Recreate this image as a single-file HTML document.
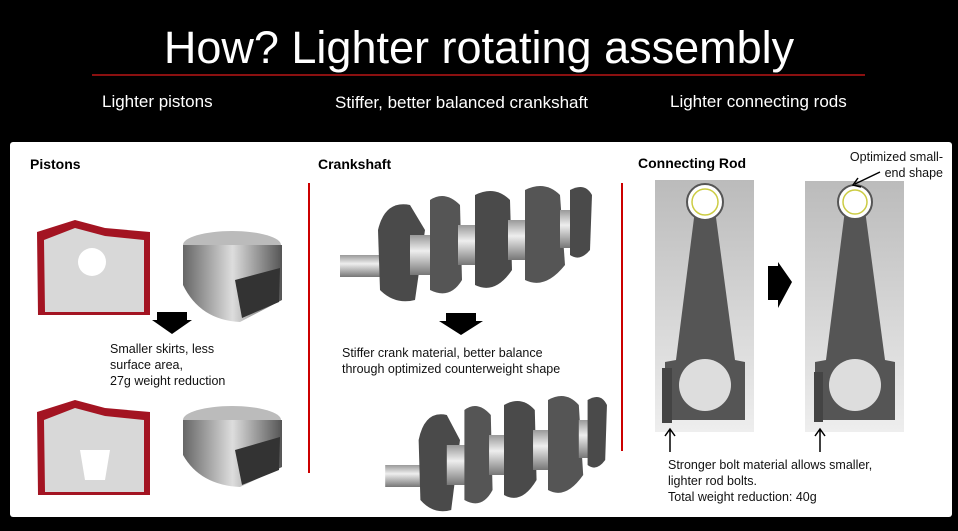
<!DOCTYPE html>
<html><head><meta charset="utf-8"><style>
body{margin:0;width:958px;height:531px;background:#000;position:relative;overflow:hidden;font-family:"Liberation Sans",sans-serif}
.a{position:absolute}
.t{color:#fff}
.k{color:#111;font-size:12.5px;line-height:16px}
.h{color:#000;font-weight:bold;font-size:14px}
</style></head><body>
<div class="a t" style="left:0;width:958px;top:21px;text-align:center;font-size:45px;line-height:54px">How? Lighter rotating assembly</div>
<div class="a" style="left:92px;top:74px;width:773px;height:2px;background:#8b1010"></div>
<div class="a t" style="left:102px;top:92px;font-size:17px">Lighter pistons</div>
<div class="a t" style="left:335px;top:93px;font-size:17px">Stiffer, better balanced crankshaft</div>
<div class="a t" style="left:670px;top:92px;font-size:17px">Lighter connecting rods</div>
<div class="a" style="left:10px;top:142px;width:942px;height:375px;background:#fff;border-radius:3px"></div>
<div class="a h" style="left:30px;top:156px">Pistons</div>
<div class="a h" style="left:318px;top:156px">Crankshaft</div>
<div class="a h" style="left:638px;top:155px">Connecting Rod</div>
<div class="a" style="left:308px;top:183px;width:1.5px;height:290px;background:#c00"></div>
<div class="a" style="left:621px;top:183px;width:1.5px;height:268px;background:#c00"></div>
<svg class="a" style="left:0;top:0" width="958" height="531">
<defs><linearGradient id="g" x1="0" x2="0" y1="0" y2="1"><stop offset="0" stop-color="#bbb"/><stop offset="1" stop-color="#eee"/></linearGradient>
<linearGradient id="m" x1="0" x2="1"><stop offset="0" stop-color="#666"/><stop offset=".5" stop-color="#ddd"/><stop offset="1" stop-color="#555"/></linearGradient>
<linearGradient id="j" x1="0" x2="0" y1="0" y2="1"><stop offset="0" stop-color="#999"/><stop offset=".4" stop-color="#eee"/><stop offset="1" stop-color="#777"/></linearGradient>
<g id="crank">
<rect x="340" y="255" width="45" height="22" fill="url(#j)"/>
<path d="M378 230 Q385 200 410 205 L425 230 L415 300 Q395 305 380 290Z" fill="#4a4a4a"/>
<rect x="410" y="235" width="25" height="40" fill="url(#j)"/>
<path d="M430 200 Q445 190 460 205 L462 280 Q450 300 430 290Z" fill="#555"/>
<rect x="458" y="225" width="22" height="40" fill="url(#j)"/>
<path d="M475 195 Q495 185 510 200 L512 270 Q495 295 475 285Z" fill="#4a4a4a"/>
<rect x="508" y="220" width="22" height="40" fill="url(#j)"/>
<path d="M525 190 Q545 180 560 195 L565 265 Q545 290 525 280Z" fill="#555"/>
<rect x="560" y="210" width="25" height="38" fill="url(#j)"/>
<path d="M570 190 Q585 182 592 195 L590 250 Q580 262 570 255Z" fill="#4a4a4a"/>
</g></defs>
<g><path d="M37 232 L75 220 L105 228 L150 232 L150 315 L38 315 Z" fill="#a31422"/><path d="M44 240 L75 228 L105 236 L144 240 L144 312 L45 312 Z" fill="#d8d8d8"/><circle cx="92" cy="262" r="14" fill="#fff"/></g>
<g><ellipse cx="232" cy="245" rx="49" ry="14" fill="#bbb"/><path d="M183 245 L183 285 Q200 320 240 322 L282 300 L282 245 Z" fill="url(#m)"/><path d="M235 280 L280 268 L279 302 L242 318 Z" fill="#333"/></g>
<g transform="translate(0,180)"><path d="M37 232 L75 220 L105 228 L150 232 L150 315 L38 315 Z" fill="#a31422"/><path d="M44 240 L75 228 L105 236 L144 240 L144 312 L45 312 Z" fill="#d8d8d8"/><path d="M80 270 L110 270 L105 300 L85 300Z" fill="#fff"/></g>
<g transform="translate(0,175)"><ellipse cx="232" cy="245" rx="49" ry="14" fill="#bbb"/><path d="M183 245 L183 280 Q200 310 240 312 L282 292 L282 245 Z" fill="url(#m)"/><path d="M235 275 L280 262 L279 295 L242 310 Z" fill="#333"/></g>
<path d="M157 312 L187 312 L187 320 L192 320 L172 334 L152 320 L157 320Z" fill="#000"/>
<path d="M446 313 L476 313 L476 321 L483 321 L461 335 L439 321 L446 321Z" fill="#000"/>
<use href="#crank"/>
<use href="#crank" transform="matrix(0.88,0,0,1,86,210)"/>
<g><rect x="655" y="180" width="99" height="252" fill="url(#g)"/>
<path d="M695 210 L715 210 L735 360 L745 362 L745 420 L665 420 L665 362 L676 360Z" fill="#555"/>
<circle cx="705" cy="202" r="18" fill="#fff" stroke="#555" stroke-width="2"/><circle cx="705" cy="202" r="13" fill="none" stroke="#cc4" stroke-width="1.5"/>
<circle cx="705" cy="385" r="26" fill="#ddd"/><rect x="662" y="368" width="10" height="55" fill="#444"/></g>
<g><rect x="805" y="181" width="99" height="251" fill="url(#g)"/>
<path d="M845 210 L865 210 L885 360 L895 362 L895 420 L815 420 L815 362 L826 360Z" fill="#555"/>
<circle cx="855" cy="202" r="17" fill="#fff" stroke="#555" stroke-width="2"/><circle cx="855" cy="202" r="12" fill="none" stroke="#cc4" stroke-width="1.5"/>
<circle cx="855" cy="385" r="26" fill="#ddd"/><rect x="814" y="372" width="9" height="50" fill="#444"/></g>
<path d="M768 266 L778 266 L778 262 L792 282 L778 308 L778 300 L768 300Z" fill="#000"/>
<g stroke="#000" stroke-width="1.5" fill="none"><path d="M670 452 L670 430 M665 436 L670 429 L675 436"/><path d="M820 452 L820 430 M815 436 L820 429 L825 436"/><path d="M880 172 L855 184 M858 178 L853 185 L861 187"/></g>
</svg>
<div class="a k" style="left:110px;top:341px">Smaller skirts, less<br>surface area,<br>27g weight reduction</div>
<div class="a k" style="left:342px;top:345px">Stiffer crank material, better balance<br>through optimized counterweight shape</div>
<div class="a k" style="left:668px;top:457px">Stronger bolt material allows smaller,<br>lighter rod bolts.<br>Total weight reduction: 40g</div>
<div class="a k" style="left:849px;top:149px;text-align:right;width:94px">Optimized small-<br>end shape</div>
</body></html>
